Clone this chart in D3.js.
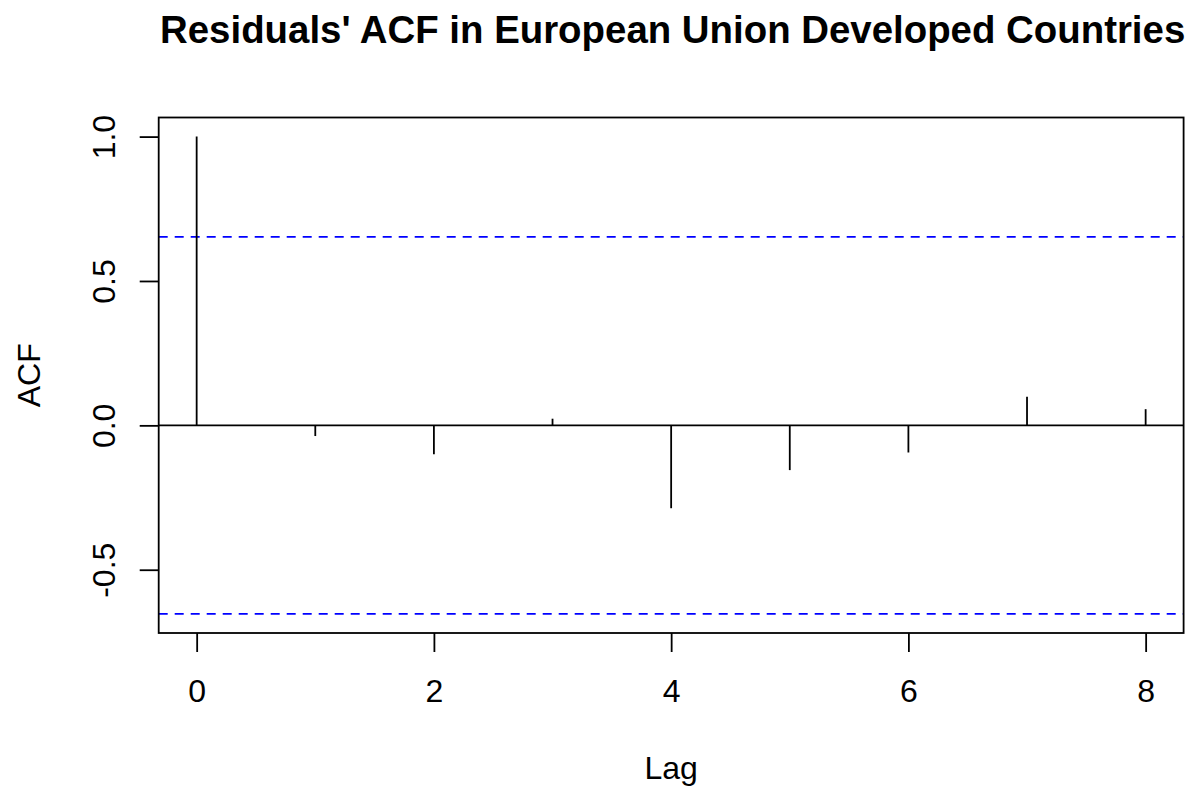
<!DOCTYPE html>
<html>
<head>
<meta charset="utf-8">
<script src="https://cdn.jsdelivr.net/npm/d3@7"></script>
<style>
  html, body { margin: 0; padding: 0; background: #ffffff; }
  svg { display: block; font-family: "Liberation Sans", Arial, sans-serif; }
</style>
</head>
<body>
<svg id="chart" width="1197" height="787"></svg>
<script>
// Residual autocorrelations by lag
const lags = [0, 1, 2, 3, 4, 5, 6, 7, 8];
const acfValues = [1.0, -0.037, -0.100, 0.023, -0.287, -0.155, -0.094, 0.099, 0.056];
// 95% bounds, 1.96 / sqrt(n)
const confLimit = 0.653;
const xTicks = [0, 2, 4, 6, 8];
const yTicks = [-0.5, 0.0, 0.5, 1.0];
const yTickLabels = ["-0.5", "0.0", "0.5", "1.0"];

const titleText = "Residuals' ACF in European Union Developed Countries";
const xLabel = "Lag";
const yLabel = "ACF";

const svg = d3.select("#chart");
const plot = { left: 158.7, right: 1183.6, top: 117.5, bottom: 633 };

// Axis limits padded by 4% on each side
const xMin = d3.min(lags), xMax = d3.max(lags);
const xPad = (xMax - xMin) * 0.04;
const yLo = Math.min(-confLimit, d3.min(acfValues));
const yHi = Math.max(confLimit, d3.max(acfValues));
const yPad = (yHi - yLo) * 0.04;

const x = d3.scaleLinear().domain([xMin - xPad, xMax + xPad]).range([plot.left, plot.right]);
const y = d3.scaleLinear().domain([yLo - yPad, yHi + yPad]).range([plot.bottom, plot.top]);

const axisFont = 32;
const lineW = 1.8;

// Zero reference line
svg.append("line")
  .attr("x1", plot.left).attr("x2", plot.right)
  .attr("y1", y(0)).attr("y2", y(0))
  .attr("stroke", "#000").attr("stroke-width", lineW);

// Confidence bounds
svg.selectAll("line.conf")
  .data([confLimit, -confLimit])
  .join("line")
  .attr("class", "conf")
  .attr("x1", plot.left).attr("x2", plot.right)
  .attr("y1", d => y(d)).attr("y2", d => y(d))
  .attr("stroke", "#0000ff").attr("stroke-width", lineW)
  .attr("stroke-dasharray", "9,7");

// Spikes
svg.selectAll("line.spike")
  .data(lags.map((l, i) => ({ lag: l, v: acfValues[i] })))
  .join("line")
  .attr("class", "spike")
  .attr("x1", d => x(d.lag)).attr("x2", d => x(d.lag))
  .attr("y1", y(0)).attr("y2", d => y(d.v))
  .attr("stroke", "#000").attr("stroke-width", lineW);

// Plot frame
svg.append("rect")
  .attr("x", plot.left).attr("y", plot.top)
  .attr("width", plot.right - plot.left).attr("height", plot.bottom - plot.top)
  .attr("fill", "none").attr("stroke", "#000").attr("stroke-width", lineW);

// X axis
const xAxis = svg.append("g")
  .attr("transform", `translate(0,${plot.bottom})`)
  .call(d3.axisBottom(x).tickValues(xTicks).tickSize(19).tickFormat(d3.format("d")));
xAxis.select(".domain").remove();
xAxis.selectAll(".tick line").attr("stroke", "#000").attr("stroke-width", lineW);
xAxis.selectAll(".tick text")
  .attr("y", 69).attr("dy", 0)
  .attr("font-size", axisFont).attr("fill", "#000")
  .attr("font-family", "Liberation Sans, Arial, sans-serif");

// Y axis with rotated labels
const yAxis = svg.append("g")
  .attr("transform", `translate(${plot.left},0)`)
  .call(d3.axisLeft(y).tickValues(yTicks).tickSize(19)
    .tickFormat((d, i) => yTickLabels[i]));
yAxis.select(".domain").remove();
yAxis.selectAll(".tick line").attr("stroke", "#000").attr("stroke-width", lineW);
yAxis.selectAll(".tick text")
  .attr("transform", "rotate(-90)")
  .attr("x", 0).attr("y", -44).attr("dy", 0)
  .attr("text-anchor", "middle")
  .attr("font-size", axisFont).attr("fill", "#000")
  .attr("font-family", "Liberation Sans, Arial, sans-serif");

// Axis titles
svg.append("text")
  .attr("x", (plot.left + plot.right) / 2).attr("y", 779)
  .attr("text-anchor", "middle").attr("font-size", axisFont)
  .text(xLabel);

svg.append("text")
  .attr("transform", `translate(40,${(plot.top + plot.bottom) / 2}) rotate(-90)`)
  .attr("text-anchor", "middle").attr("font-size", axisFont)
  .text(yLabel);

// Main title
svg.append("text")
  .attr("x", (plot.left + plot.right) / 2 + 1.5).attr("y", 43)
  .attr("text-anchor", "middle").attr("font-size", 38.4)
  .attr("font-weight", "bold")
  .text(titleText);
</script>
</body>
</html>
